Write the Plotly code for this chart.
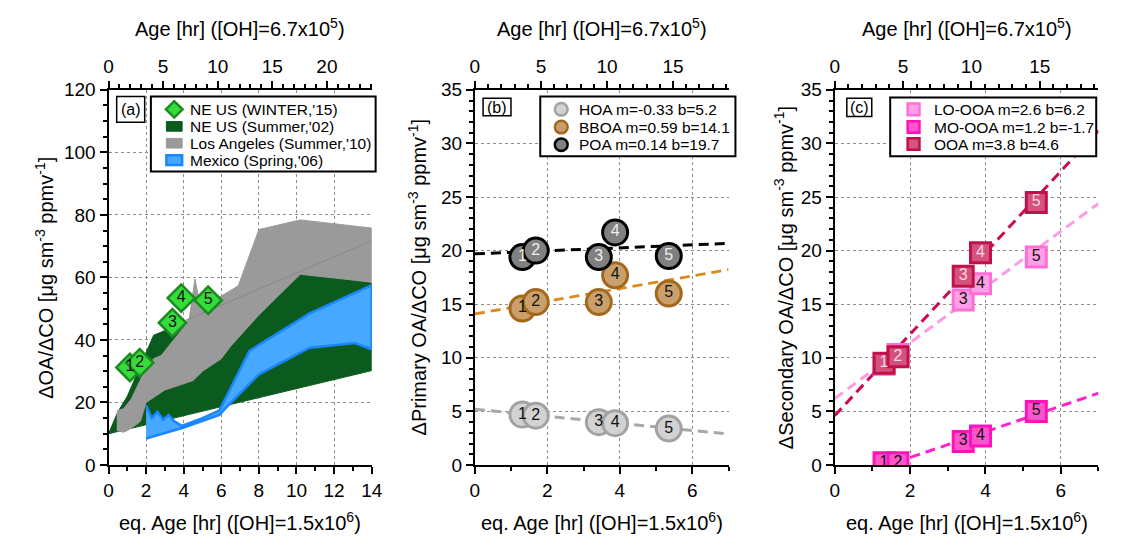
import plotly.graph_objects as go

W, H = 1122, 552
FONT = "Liberation Sans, Arial, Helvetica, sans-serif"


def fx(p):
    return p / W


def fy(p):
    return 1 - p / H


# ---------------- data ----------------
point_labels = ["1", "2", "3", "4", "5"]

# panel (a)
winter15_age = [1.14, 1.66, 3.40, 3.87, 5.30]
winter15_oa = [31.2, 32.7, 45.5, 53.4, 52.7]

ne02_upper_age = [0.0, 0.5, 1.0, 1.5, 2.0, 2.4, 3.0, 3.4, 3.8, 4.2, 6.0, 8.0, 10.2, 14.0]
ne02_upper_oa = [10.0, 17.0, 22.0, 29.0, 36.0, 41.5, 43.0, 43.5, 44.5, 46.0, 50.0, 56.0, 61.6, 58.2]
ne02_lower_age = [14.0, 0.0]
ne02_lower_oa = [30.2, 10.0]

la10_upper_age = [0.44, 0.8, 1.2, 1.6, 2.0, 2.4, 2.8, 3.2, 3.6, 4.0, 4.3, 4.6, 4.9, 5.3, 6.0, 6.9, 8.0, 10.2, 14.0]
la10_upper_oa = [17.3, 18.0, 21.0, 26.0, 31.0, 34.0, 35.0, 38.0, 41.0, 44.0, 47.0, 59.5, 50.0, 51.5, 54.0, 57.3, 75.3, 78.4, 75.8]
la10_lower_age = [14.0, 10.2, 8.0, 6.5, 6.0, 5.5, 5.0, 4.5, 4.0, 3.5, 3.0, 2.5, 2.0, 1.7, 1.5, 1.0, 0.8, 0.44]
la10_lower_oa = [58.5, 61.0, 48.0, 38.0, 34.0, 32.0, 30.0, 27.0, 26.0, 25.0, 24.0, 22.0, 20.0, 14.0, 13.0, 11.0, 10.5, 11.0]
la10_edge_age = [3.8, 14.0]
la10_edge_oa = [45.5, 71.7]

mex06_upper_age = [2.0, 2.3, 2.6, 2.9, 3.2, 3.5, 3.9, 5.0, 5.9, 7.5, 10.7, 14.0]
mex06_upper_oa = [19.0, 15.0, 17.0, 14.5, 16.0, 14.0, 12.5, 15.0, 17.5, 36.5, 48.5, 57.5]
mex06_lower_age = [14.0, 13.1, 10.7, 8.0, 6.2, 5.9, 4.0, 2.0]
mex06_lower_oa = [37.0, 39.0, 37.5, 29.0, 18.0, 16.0, 12.0, 8.5]

region_names = ["NE US (WINTER,'15)", "NE US (Summer,'02)", "Los Angeles (Summer,'10)", "Mexico (Spring,'06)"]

# panel (b)
prim_age = [1.31, 1.68, 3.42, 3.87, 5.35]
hoa = [4.7, 4.6, 4.0, 3.9, 3.4]
bboa = [14.6, 15.2, 15.2, 17.7, 16.0]
poa = [19.4, 20.0, 19.4, 21.7, 19.5]
prim_names = ["HOA", "BBOA", "POA"]
prim_m = [-0.33, 0.59, 0.14]
prim_b = [5.2, 14.1, 19.7]

# panel (c)
sec_age = [1.31, 1.68, 3.41, 3.87, 5.35]
lo_ooa = [9.4, 10.3, 15.4, 16.9, 19.4]
mo_ooa = [0.2, 0.2, 2.2, 2.7, 5.0]
ooa = [9.5, 10.1, 17.6, 19.8, 24.5]
sec_names = ["LO-OOA", "MO-OOA", "OOA"]
sec_m = [2.6, 1.2, 3.8]
sec_b = [6.2, -1.7, 4.6]

fit_age = [0.0, 7.0]

# ---------------- styles ----------------
GREEN_D = "#0b5a1e"
GRAY = "#9a9a9a"
BLUE_F, BLUE_E = "#46a8ff", "#1a86ff"
DIA_F, DIA_E = "#35dc3a", "#1c8c22"

prim_fill = ["#d2d2d2", "#c9a06c", "#808080"]
prim_edge = ["#a2a2a2", "#a3681c", "#000000"]
prim_line = ["#a8a8a8", "#d98a1e", "#000000"]
prim_text = ["#111111", "#111111", "#eeeeee"]

sec_fill = ["#ffa0e6", "#ff55cc", "#d6527c"]
sec_edge = ["#ff6fd6", "#ff12ba", "#c0124a"]
sec_line = ["#ff9be2", "#ff22cc", "#cc0a50"]
sec_text = ["#111111", "#111111", "#f4dbe3"]

DASH = "10px,6px"

# ---------------- figure ----------------
fig = go.Figure()

# panel (a) bands
fig.add_trace(go.Scatter(
    x=ne02_upper_age + ne02_lower_age, y=ne02_upper_oa + ne02_lower_oa,
    fill="toself", fillcolor=GREEN_D, mode="lines", line=dict(color=GREEN_D, width=1),
    name=region_names[1], showlegend=False, hoverinfo="skip", xaxis="x", yaxis="y"))
fig.add_trace(go.Scatter(
    x=la10_upper_age + la10_lower_age, y=la10_upper_oa + la10_lower_oa,
    fill="toself", fillcolor=GRAY, mode="lines", line=dict(color=GRAY, width=1),
    name=region_names[2], showlegend=False, hoverinfo="skip", xaxis="x", yaxis="y"))
fig.add_trace(go.Scatter(
    x=la10_edge_age, y=la10_edge_oa, mode="lines", line=dict(color="#878787", width=1),
    showlegend=False, hoverinfo="skip", xaxis="x", yaxis="y"))
fig.add_trace(go.Scatter(
    x=mex06_upper_age + mex06_lower_age, y=mex06_upper_oa + mex06_lower_oa,
    fill="toself", fillcolor=BLUE_F, mode="lines", line=dict(color=BLUE_E, width=2.5),
    name=region_names[3], showlegend=False, hoverinfo="skip", xaxis="x", yaxis="y"))
fig.add_trace(go.Scatter(
    x=winter15_age, y=winter15_oa, mode="markers+text", text=point_labels,
    textposition="middle center", textfont=dict(family=FONT, size=16, color="#111"),
    marker=dict(symbol="diamond", size=21, color=DIA_F, line=dict(color=DIA_E, width=2.5)),
    name=region_names[0], showlegend=False, hoverinfo="skip", xaxis="x", yaxis="y"))

# panel (b)
for i, name in enumerate(prim_names):
    fig.add_trace(go.Scatter(
        x=fit_age, y=[prim_m[i] * a + prim_b[i] for a in fit_age], mode="lines",
        line=dict(color=prim_line[i], width=3, dash=DASH), showlegend=False,
        hoverinfo="skip", xaxis="x2", yaxis="y2"))
for i, (name, vals) in enumerate(zip(prim_names, [hoa, bboa, poa])):
    fig.add_trace(go.Scatter(
        x=prim_age, y=vals, mode="markers+text", text=point_labels, textposition="middle center",
        textfont=dict(family=FONT, size=16, color=prim_text[i]),
        marker=dict(symbol="circle", size=25, color=prim_fill[i], line=dict(color=prim_edge[i], width=3)),
        name=name, showlegend=False, hoverinfo="skip", xaxis="x2", yaxis="y2"))

# panel (c)
for i, name in enumerate(sec_names):
    fig.add_trace(go.Scatter(
        x=fit_age, y=[sec_m[i] * a + sec_b[i] for a in fit_age], mode="lines",
        line=dict(color=sec_line[i], width=3, dash=DASH), showlegend=False,
        hoverinfo="skip", xaxis="x3", yaxis="y3"))
for i, (name, vals) in enumerate(zip(sec_names, [lo_ooa, mo_ooa, ooa])):
    fig.add_trace(go.Scatter(
        x=sec_age, y=vals, mode="markers+text", text=point_labels, textposition="middle center",
        textfont=dict(family=FONT, size=16, color=sec_text[i]),
        marker=dict(symbol="square", size=20, color=sec_fill[i], line=dict(color=sec_edge[i], width=3)),
        name=name, showlegend=False, hoverinfo="skip", xaxis="x3", yaxis="y3"))

# anchors for the top (photochemical age) axes
top_ranges = {"x4": ("y", 24.1), "x5": ("y2", 19.2), "x6": ("y3", 19.3)}
for xa, (ya, r) in top_ranges.items():
    fig.add_trace(go.Scatter(x=[0, r], y=[None, None], mode="markers", showlegend=False,
                             hoverinfo="skip", xaxis=xa, yaxis=ya))


def axis(**kw):
    d = dict(showline=True, linecolor="black", linewidth=2, mirror=False,
             ticks="outside", ticklen=7, tickwidth=2, tickcolor="black",
             tickfont=dict(family=FONT, size=19, color="black"),
             showgrid=True, gridcolor="#8c8c8c", gridwidth=1.3, griddash="dot",
             zeroline=False, fixedrange=True)
    d.update(kw)
    return d


def minor(dt):
    return dict(ticks="outside", ticklen=4, tickwidth=1.5, tickcolor="black", dtick=dt, showgrid=False)


dom_a = [fx(105), fx(372)]
dom_b = [fx(476.7), fx(734)]
dom_c = [fx(841.7), fx(1109.3)]
dom_y = [fy(473), fy(83)]

layout = dict(
    width=W, height=H, autosize=False,
    margin=dict(l=0, r=0, t=0, b=0),
    paper_bgcolor="white", plot_bgcolor="white",
    font=dict(family=FONT, color="black"),
    showlegend=False,
    xaxis=axis(domain=dom_a, range=[0, 14], dtick=2, tick0=0, anchor="y", minor=minor(1)),
    yaxis=axis(domain=dom_y, range=[0, 120], dtick=20, tick0=0, anchor="x", minor=minor(5)),
    xaxis2=axis(domain=dom_b, range=[0, 7], dtick=2, tick0=0, anchor="y2", minor=minor(1)),
    yaxis2=axis(domain=dom_y, range=[0, 35], dtick=5, tick0=0, anchor="x2", minor=minor(1)),
    xaxis3=axis(domain=dom_c, range=[0, 7], dtick=2, tick0=0, anchor="y3", minor=minor(1)),
    yaxis3=axis(domain=dom_y, range=[0, 35], dtick=5, tick0=0, anchor="x3", minor=minor(1)),
)
for n, (xa, (ya, r)) in zip([4, 5, 6], top_ranges.items()):
    base = {"y": "x", "y2": "x2", "y3": "x3"}[ya]
    layout[f"xaxis{n}"] = axis(overlaying=base, side="top", anchor=ya, range=[0, r], dtick=5, tick0=0,
                               minor=minor(1), showgrid=False)
fig.update_layout(**layout)

# ---------------- legends (drawn as boxed keys) ----------------
LEG_FONT = dict(family=FONT, size=15.5, color="black")


def box(x0, y0, x1, y1, fill="white", line="black", lw=2):
    fig.add_shape(type="rect", xref="paper", yref="paper", x0=fx(x0), x1=fx(x1), y0=fy(y1), y1=fy(y0),
                  fillcolor=fill, line=dict(color=line, width=lw), layer="above")


def label(x, y, text):
    fig.add_annotation(text=text, x=fx(x), y=fy(y), xref="paper", yref="paper", showarrow=False,
                       xanchor="left", yanchor="middle", font=LEG_FONT)


# (a)
box(148, 90, 376, 168)
rows_a = [103.3, 121.0, 138.5, 156.0]
sx_a = 171.7
d = 8.5
fig.add_shape(type="path", xref="paper", yref="paper", layer="above",
              path=f"M{fx(sx_a - d)},{fy(rows_a[0])} L{fx(sx_a)},{fy(rows_a[0] - d)} "
                   f"L{fx(sx_a + d)},{fy(rows_a[0])} L{fx(sx_a)},{fy(rows_a[0] + d)} Z",
              fillcolor=DIA_F, line=dict(color=DIA_E, width=2.5))
swatches = [(GREEN_D, GREEN_D, 1), (GRAY, GRAY, 1), (BLUE_F, BLUE_E, 2.5)]
for (fc, lc, lw), ry in zip(swatches, rows_a[1:]):
    box(sx_a - 8, ry - 5, sx_a + 8, ry + 5, fill=fc, line=lc, lw=lw)
for name, ry in zip(region_names, rows_a):
    label(186, ry, name)

# (b)
box(543, 90, 741, 152)
rows_b = [103.3, 121.7, 140.0]
sx_b = 564.3
for i, ry in enumerate(rows_b):
    fig.add_shape(type="circle", xref="paper", yref="paper", layer="above",
                  x0=fx(sx_b - 6.5), x1=fx(sx_b + 6.5), y0=fy(ry + 6.5), y1=fy(ry - 6.5),
                  fillcolor=prim_fill[i], line=dict(color=prim_edge[i], width=2.5))
    label(580, ry, f"{prim_names[i]} m={prim_m[i]} b={prim_b[i]}")

# (c)
box(898, 91, 1107, 152)
rows_c = [103.3, 121.7, 139.3]
sx_c = 921.7
for i, ry in enumerate(rows_c):
    box(sx_c - 6, ry - 6, sx_c + 6, ry + 6, fill=sec_fill[i], line=sec_edge[i], lw=2.5)
    label(940, ry, f"{sec_names[i]} m={sec_m[i]} b={sec_b[i]}")

# ---------------- titles and panel tags ----------------
top_title = "Age [hr] ([OH]=6.7x10<sup>5</sup>)"
bot_title = "eq. Age [hr] ([OH]=1.5x10<sup>6</sup>)"
y_titles = ["ΔOA/ΔCO [μg sm<sup>-3</sup> ppmv<sup>-1</sup>]",
            "ΔPrimary OA/ΔCO [μg sm<sup>-3</sup> ppmv<sup>-1</sup>]",
            "ΔSecondary OA/ΔCO [μg sm<sup>-3</sup> ppmv<sup>-1</sup>]"]
ytitle_x = [40, 418, 790]
panel_tags = ["(a)", "(b)", "(c)"]
tag_boxes = [(113.3, 90, 141.7, 116.7), (485, 91.7, 513.3, 110), (854, 91.7, 879.3, 110.7)]
for i, dom in enumerate([dom_a, dom_b, dom_c]):
    cx = (dom[0] + dom[1]) / 2
    fig.add_annotation(text=top_title, x=cx, y=fy(18), xref="paper", yref="paper",
                       showarrow=False, font=dict(family=FONT, size=20), xanchor="center", yanchor="middle")
    fig.add_annotation(text=bot_title, x=cx, y=fy(532), xref="paper", yref="paper",
                       showarrow=False, font=dict(family=FONT, size=20), xanchor="center", yanchor="middle")
    fig.add_annotation(text=y_titles[i], x=fx(ytitle_x[i]), y=fy(278), xref="paper", yref="paper",
                       showarrow=False, textangle=-90, font=dict(family=FONT, size=20),
                       xanchor="center", yanchor="middle")
    x0, y0, x1, y1 = tag_boxes[i]
    box(x0, y0, x1, y1, lw=1.5)
    fig.add_annotation(text=panel_tags[i], x=fx((x0 + x1) / 2), y=fy((y0 + y1) / 2), xref="paper",
                       yref="paper", showarrow=False, font=dict(family=FONT, size=16),
                       xanchor="center", yanchor="middle")

fig.write_html("out.html", config={"displayModeBar": False},
               post_script="document.body.style.margin='0';document.body.style.overflow='hidden';")
